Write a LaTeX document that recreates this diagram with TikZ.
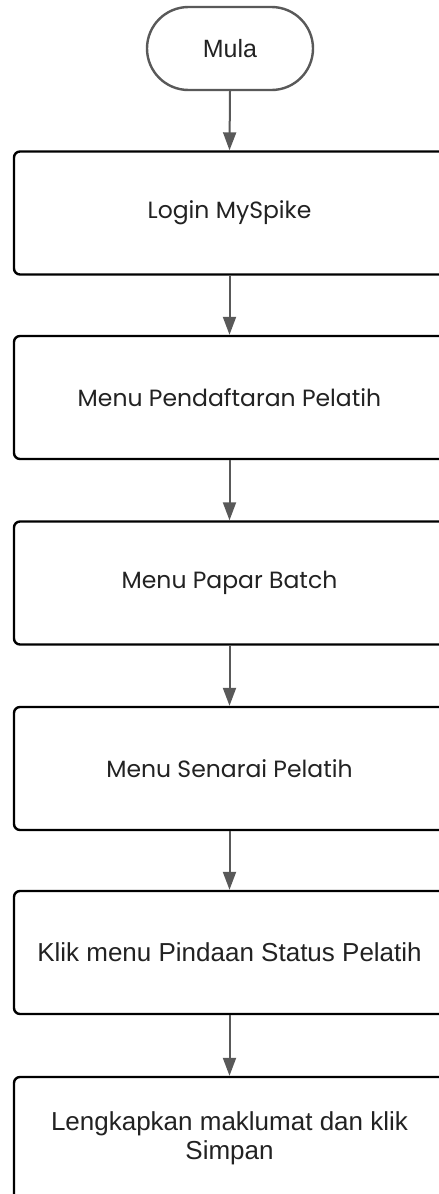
\documentclass[tikz,border=0pt]{standalone}
\usepackage{fontspec}
\setmainfont{Liberation Sans}
\newfontfamily\geo{Poppins}
\usetikzlibrary{arrows.meta,shapes.misc}
\definecolor{linegray}{HTML}{595959}
\definecolor{txt}{HTML}{222222}
\begin{document}
\begin{tikzpicture}[x=1pt,y=1pt,
  stepbox/.style={draw=black,line width=2.4pt,rounded corners=6pt,fill=white,
    minimum width=431pt,minimum height=123pt,inner sep=0pt,text=txt,align=center},
  termbox/.style={draw=linegray,line width=2.4pt,rounded rectangle,fill=white,
    minimum width=166pt,minimum height=83pt,inner sep=0pt,text=txt,font=\fontsize{25}{29}\selectfont},
  geotext/.style={font=\geo\fontsize{23.5}{28}\selectfont},
  arialtext/.style={font=\fontsize{26}{28.5}\selectfont},
  conn/.style={draw=linegray,line width=2pt,-{Triangle[length=18pt,width=13pt]}}]
\useasboundingbox (0,0) rectangle (439,-1194);
\node[termbox] (t) at (230,-48.5) {Mula};
\node[stepbox,geotext] (b1) at (229.5,-213) {Login MySpike};
\node[stepbox,geotext] (b2) at (229.5,-397.5) {Menu Pendaftaran Pelatih};
\node[stepbox,geotext] (b3) at (229.5,-583) {Menu Papar Batch};
\node[stepbox,geotext] (b4) at (229.5,-768.5) {Menu Senarai Pelatih};
\node[stepbox,arialtext] (b5) at (229.5,-952.5) {Klik menu Pindaan Status Pelatih};
\node[stepbox,arialtext] (b6) at (229.5,-1138.5) {Lengkapkan maklumat dan klik\\Simpan};
\draw[conn] (t.south) -- (b1.north);
\draw[conn] (b1.south) -- (b2.north);
\draw[conn] (b2.south) -- (b3.north);
\draw[conn] (b3.south) -- (b4.north);
\draw[conn] (b4.south) -- (b5.north);
\draw[conn] (b5.south) -- (b6.north);
\end{tikzpicture}
\end{document}
